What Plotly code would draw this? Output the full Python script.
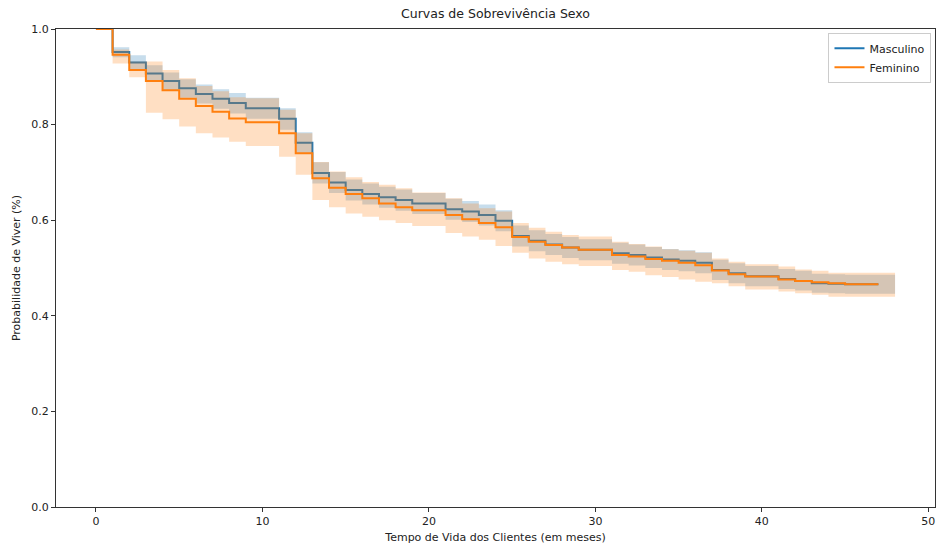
import plotly.graph_objects as go

# Timeline in months (band extends one step past the line)
months = list(range(0, 49))

masc_surv = [1.0, 0.952, 0.930, 0.907, 0.891, 0.876, 0.864, 0.854, 0.845, 0.834,
             0.834, 0.812, 0.762, 0.699, 0.679, 0.663, 0.655, 0.648, 0.642, 0.635,
             0.635, 0.623, 0.618, 0.611, 0.599, 0.567, 0.557, 0.549, 0.543, 0.538,
             0.538, 0.531, 0.527, 0.522, 0.518, 0.515, 0.511, 0.496, 0.489, 0.483,
             0.483, 0.477, 0.473, 0.468, 0.467, 0.466, 0.466, 0.466]
masc_lower = [1.0, 0.941, 0.914, 0.889, 0.872, 0.856, 0.844, 0.833, 0.823, 0.812,
              0.812, 0.789, 0.739, 0.677, 0.657, 0.641, 0.633, 0.626, 0.620, 0.613,
              0.613, 0.601, 0.596, 0.589, 0.577, 0.545, 0.535, 0.527, 0.521, 0.516,
              0.516, 0.509, 0.505, 0.500, 0.496, 0.493, 0.489, 0.475, 0.468, 0.462,
              0.462, 0.456, 0.453, 0.448, 0.447, 0.446, 0.446, 0.446, 0.446]
masc_upper = [1.0, 0.962, 0.945, 0.924, 0.909, 0.895, 0.884, 0.874, 0.866, 0.856,
              0.856, 0.834, 0.784, 0.721, 0.701, 0.685, 0.677, 0.670, 0.664, 0.657,
              0.657, 0.645, 0.640, 0.633, 0.621, 0.589, 0.579, 0.571, 0.565, 0.560,
              0.560, 0.553, 0.549, 0.544, 0.540, 0.537, 0.533, 0.517, 0.510, 0.504,
              0.504, 0.498, 0.494, 0.488, 0.487, 0.486, 0.486, 0.486, 0.486]

fem_surv = [1.0, 0.946, 0.914, 0.891, 0.872, 0.854, 0.839, 0.827, 0.813, 0.805,
            0.805, 0.782, 0.740, 0.688, 0.668, 0.655, 0.646, 0.635, 0.627, 0.621,
            0.621, 0.611, 0.602, 0.594, 0.585, 0.565, 0.555, 0.548, 0.543, 0.538,
            0.538, 0.527, 0.524, 0.519, 0.515, 0.511, 0.506, 0.495, 0.487, 0.482,
            0.482, 0.476, 0.473, 0.470, 0.468, 0.466, 0.466, 0.466]
fem_lower = [1.0, 0.928, 0.899, 0.825, 0.811, 0.796, 0.782, 0.773, 0.764, 0.755,
             0.755, 0.733, 0.695, 0.642, 0.627, 0.614, 0.607, 0.600, 0.594, 0.588,
             0.588, 0.573, 0.566, 0.559, 0.546, 0.532, 0.520, 0.513, 0.508, 0.504,
             0.504, 0.496, 0.492, 0.485, 0.481, 0.476, 0.471, 0.468, 0.462, 0.455,
             0.455, 0.451, 0.447, 0.444, 0.440, 0.440, 0.440, 0.440, 0.440]
fem_upper = [1.0, 0.957, 0.932, 0.932, 0.914, 0.897, 0.881, 0.870, 0.857, 0.855,
             0.855, 0.831, 0.782, 0.722, 0.702, 0.690, 0.680, 0.674, 0.667, 0.658,
             0.658, 0.646, 0.635, 0.625, 0.618, 0.594, 0.584, 0.576, 0.569, 0.566,
             0.566, 0.555, 0.550, 0.545, 0.539, 0.536, 0.532, 0.520, 0.513, 0.508,
             0.508, 0.503, 0.497, 0.494, 0.490, 0.490, 0.490, 0.490, 0.490]

x_ticks = [0, 10, 20, 30, 40, 50]
y_ticks = [0.0, 0.2, 0.4, 0.6, 0.8, 1.0]

series = [
    ("Masculino", masc_surv, masc_lower, masc_upper, "#1f77b4", "rgba(31,119,180,0.25)"),
    ("Feminino", fem_surv, fem_lower, fem_upper, "#ff7f0e", "rgba(255,127,14,0.25)"),
]

fig = go.Figure()
for name, surv, lo, up, col, fillcol in series:
    fig.add_trace(go.Scatter(x=months, y=lo, mode="lines", line=dict(width=0, shape="hv"),
                             showlegend=False, hoverinfo="skip"))
    fig.add_trace(go.Scatter(x=months, y=up, mode="lines", line=dict(width=0, shape="hv"),
                             fill="tonexty", fillcolor=fillcol, showlegend=False,
                             hoverinfo="skip"))
    fig.add_trace(go.Scatter(x=months[:len(surv)], y=surv, mode="lines", name=name,
                             line=dict(color=col, width=2, shape="hv")))

font_family = "DejaVu Sans"
fig.update_layout(
    width=936, height=547,
    margin=dict(l=56, r=1, t=29, b=40),
    paper_bgcolor="white", plot_bgcolor="white",
    font=dict(family=font_family, size=11, color="#222"),
    title=dict(text="Curvas de Sobrevivência Sexo", x=0.5, xref="paper", xanchor="center",
               y=0.975, yanchor="middle", font=dict(size=12.5, color="#222")),
    legend=dict(x=0.996, y=0.992, xanchor="right", yanchor="top", traceorder="normal",
                bgcolor="rgba(255,255,255,0.85)", bordercolor="#cccccc", borderwidth=1,
                font=dict(size=11), tracegroupgap=0),
    showlegend=True,
)
fig.update_xaxes(range=[-2.4, 50.4], tickvals=x_ticks, ticktext=[str(v) for v in x_ticks],
                 showgrid=False, zeroline=False, showline=True, mirror=True,
                 linecolor="#333", linewidth=1, ticks="outside", ticklen=4,
                 tickcolor="#333",
                 title=dict(text="Tempo de Vida dos Clientes (em meses)", standoff=6,
                            font=dict(size=11)))
fig.update_yaxes(range=[0, 1.0], tickvals=y_ticks, ticktext=[f"{v:.1f}" for v in y_ticks],
                 showgrid=False, zeroline=False, showline=True, mirror=True,
                 linecolor="#333", linewidth=1, ticks="outside", ticklen=4,
                 tickcolor="#333",
                 title=dict(text="Probabilidade de Viver (%)", standoff=8,
                            font=dict(size=11)))

fig.write_html("out.html", config={"displayModeBar": False},
               post_script="document.body.style.margin='0px';document.body.style.overflow='hidden';")
